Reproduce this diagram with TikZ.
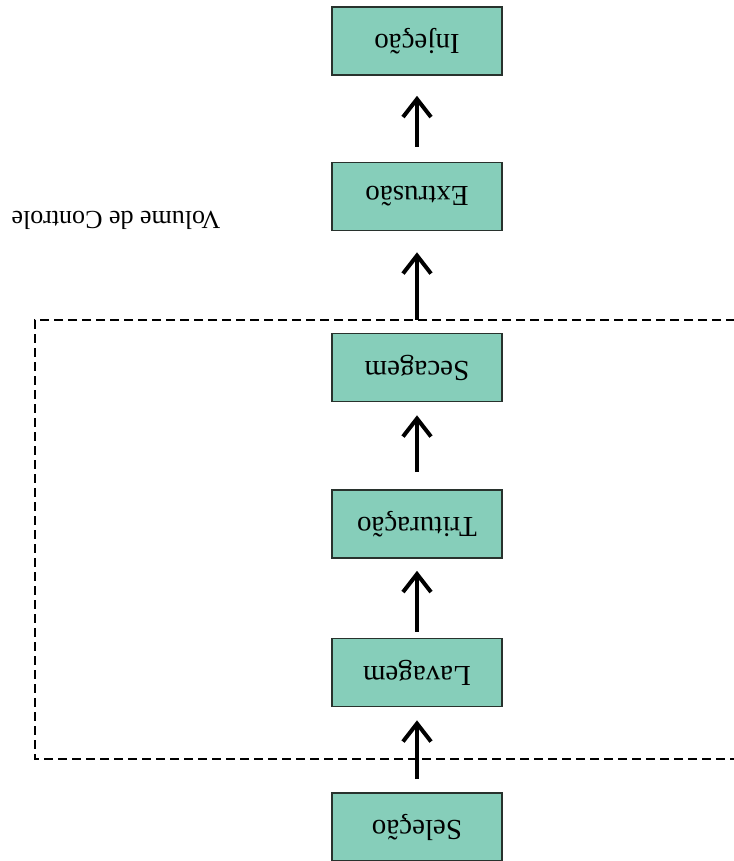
\documentclass[tikz,border=0pt]{standalone}
\usepackage{fontspec}
\setmainfont{Liberation Serif}
\usetikzlibrary{arrows.meta}
\definecolor{boxfill}{RGB}{134,206,186}
\definecolor{boxline}{RGB}{40,50,45}
\newcommand{\flipped}[1]{\rotatebox[origin=c]{180}{#1}}
\begin{document}
\begin{tikzpicture}[x=1pt,y=1pt,
  stepbox/.style={draw=boxline,line width=1.6pt,fill=boxfill,minimum width=170pt,minimum height=68pt,inner sep=0pt,font=\fontsize{29}{34}\selectfont},
  flow/.style={line width=4pt,-{Straight Barb[length=18pt,width=28pt,line width=4pt]}},
  boundary/.style={line width=2pt,dash pattern=on 9pt off 5pt}]
\useasboundingbox (0,0) rectangle (733,-861);
\node[stepbox] (inj) at (417,-41) {\flipped{Injeção}};
\node[stepbox] (ext) at (417,-196.5) {\flipped{Extrusão}};
\node[stepbox] (sec) at (417,-367.5) {\flipped{Secagem}};
\node[stepbox] (tri) at (417,-524) {\flipped{Trituração}};
\node[stepbox] (lav) at (417,-672.5) {\flipped{Lavagem}};
\node[stepbox] (sel) at (417,-827) {\flipped{Seleção}};
\node[font=\fontsize{26}{30}\selectfont] (vc) at (116,-220) {\flipped{Volume de Controle}};
\coordinate (tr) at (735,-320);
\coordinate (tl) at (35,-320);
\coordinate (bl) at (35,-759);
\coordinate (br) at (735,-759);
\draw[boundary] (tr) -- (tl) -- (bl) -- (br);
\draw[flow] ([yshift=15pt]ext.north) -- ([yshift=-20pt]inj.south);
\draw[flow] ([yshift=13pt]sec.north) -- ([yshift=-21pt]ext.south);
\draw[flow] ([yshift=17pt]tri.north) -- ([yshift=-13pt]sec.south);
\draw[flow] ([yshift=6pt]lav.north) -- ([yshift=-12pt]tri.south);
\draw[flow] ([yshift=13pt]sel.north) -- ([yshift=-13pt]lav.south);
\end{tikzpicture}
\end{document}
